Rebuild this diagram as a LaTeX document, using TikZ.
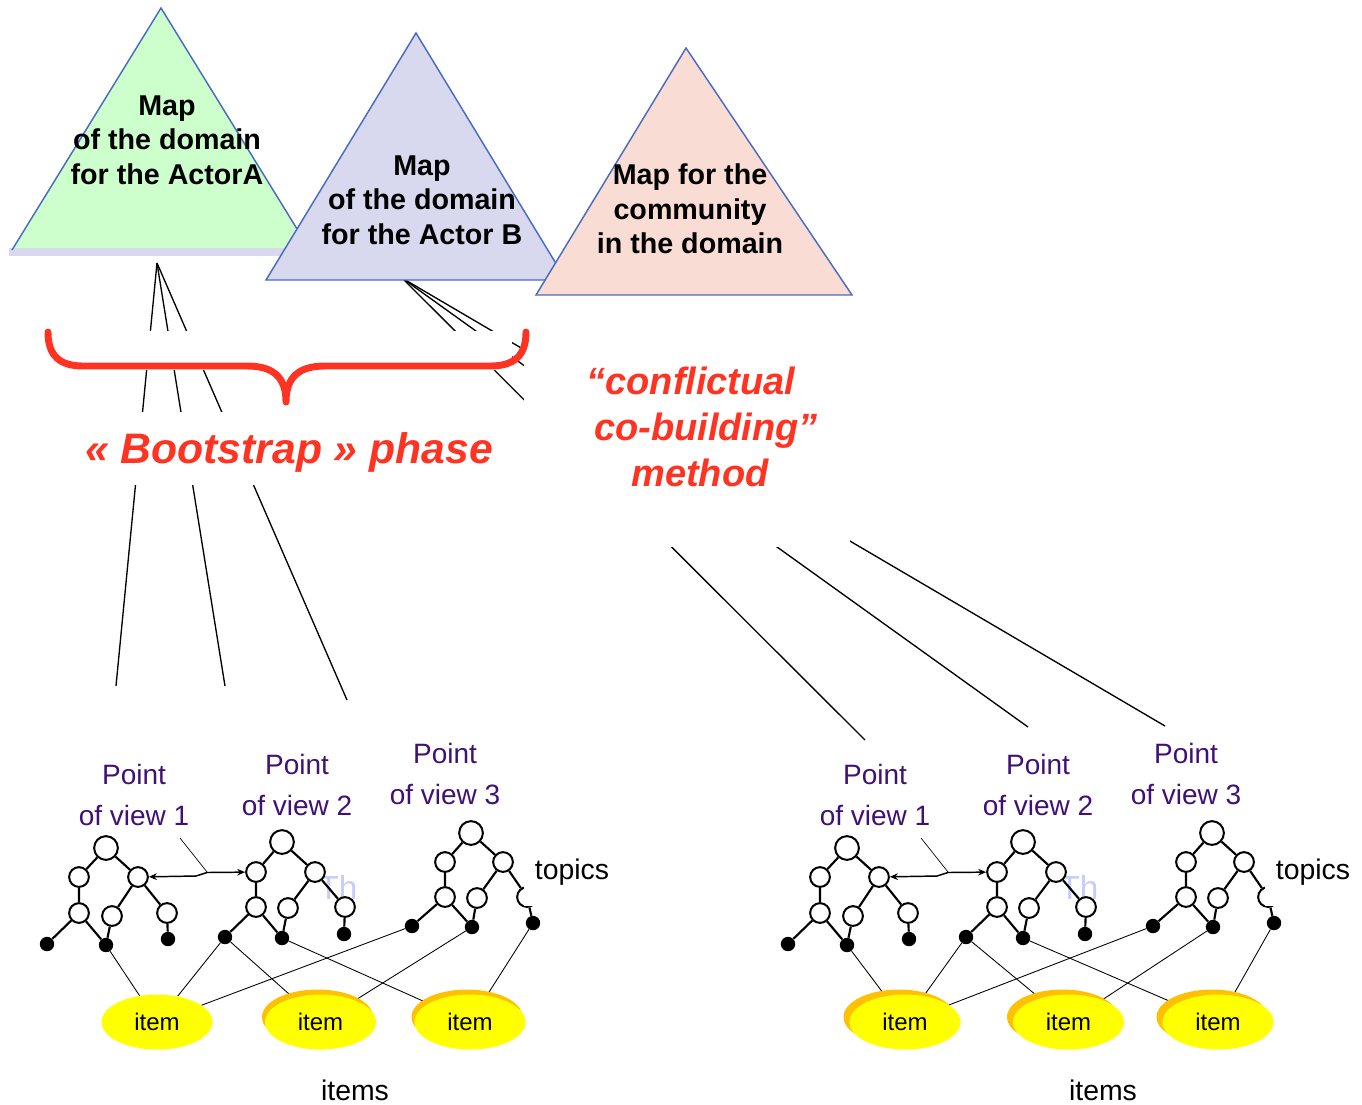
\documentclass[tikz,border=0pt]{standalone}
\usepackage{fontspec}
\setmainfont{Liberation Sans}
\usetikzlibrary{arrows.meta,shadows,backgrounds,shapes.geometric}

\definecolor{mapA}{HTML}{CCFFCC}
\definecolor{mapB}{HTML}{D8D8EE}
\definecolor{mapC}{HTML}{F9DCD3}
\definecolor{edgeblue}{HTML}{4A6CC0}
\definecolor{phasered}{HTML}{FF3322}
\definecolor{pvpurple}{HTML}{3F1175}
\definecolor{itemyellow}{HTML}{FFFF00}
\definecolor{itemshade}{HTML}{FFC000}
\definecolor{ghost}{HTML}{C8CCFA}

\tikzset{
  maptext/.style={font=\bfseries\fontsize{21.5}{25.8}\selectfont, align=center, text=black, inner sep=0pt},
  phase/.style={font=\bfseries\itshape\fontsize{32}{38}\selectfont, text=phasered, inner sep=0pt},
  method/.style={font=\bfseries\itshape\fontsize{28.5}{34.5}\selectfont, text=phasered, align=center, inner sep=0pt},
  pvlabel/.style={font=\fontsize{21}{30.75}\selectfont, text=pvpurple, align=center, inner sep=0pt},
  plain/.style={font=\fontsize{21.3}{25}\selectfont, inner sep=0pt},
  topic/.style={circle, draw, line width=1.5pt, fill=white, minimum size=14.8pt, inner sep=0pt},
  roottopic/.style={topic, minimum size=17.8pt},
  leaf/.style={circle, fill=black, minimum size=10.8pt, inner sep=0pt},
  treeedge/.style={line width=1.6pt},
  link/.style={line width=0.65pt},
  fan/.style={line width=1pt},
  item/.style={ellipse, fill=itemyellow, minimum width=83.25pt, minimum height=41.25pt, inner sep=0pt, font=\fontsize{18}{20}\selectfont},
  shaded item/.style={item, general shadow={fill=itemshade, shadow xshift=#1, shadow yshift=3.75pt}},
  >={Stealth[length=6pt,width=5pt]},
}

% One block of three points of view (topic trees) indexing three items.
% #1 name prefix, #2 horizontal shift of the block, #3 extra shift of the items,
% #4 style of the first item, #5 style of the other two items
\newcommand{\viewgroup}[5]{%
\begin{scope}[shift={(#2,0)}]
  % labels
  \node[pvlabel] (#1-pv1) at (134,795) {Point\\of view 1};
  \node[pvlabel] (#1-pv2) at (297,785) {Point\\of view 2};
  \node[pvlabel] (#1-pv3) at (445,774) {Point\\of view 3};
  \node[plain, text=ghost, font=\fontsize{25}{27}\selectfont] (#1-ghost) at (338,887) {Th};
  % tree 1
  \node[roottopic] (#1-t1-a) at (106,848) {};
  \node[topic] (#1-t1-b) at (79,877) {};
  \node[topic] (#1-t1-c) at (138,877) {};
  \node[topic] (#1-t1-d) at (79,913) {};
  \node[topic] (#1-t1-e) at (112,916) {};
  \node[topic] (#1-t1-f) at (167,913) {};
  \node[leaf] (#1-t1-g) at (47,944) {};
  \node[leaf] (#1-t1-h) at (106,945) {};
  \node[leaf] (#1-t1-i) at (168,939) {};
  % tree 2
  \node[roottopic] (#1-t2-a) at (282,842) {};
  \node[topic] (#1-t2-b) at (256,872) {};
  \node[topic] (#1-t2-c) at (315,872) {};
  \node[topic] (#1-t2-d) at (256,907) {};
  \node[topic] (#1-t2-e) at (288,908) {};
  \node[topic] (#1-t2-f) at (345,907) {};
  \node[leaf] (#1-t2-g) at (225,937) {};
  \node[leaf] (#1-t2-h) at (282,938) {};
  \node[leaf] (#1-t2-i) at (344,934) {};
  % tree 3
  \node[roottopic] (#1-t3-a) at (471,833) {};
  \node[topic] (#1-t3-b) at (445,862) {};
  \node[topic] (#1-t3-c) at (503,862) {};
  \node[topic] (#1-t3-d) at (445,897) {};
  \node[topic] (#1-t3-e) at (477,898) {};
  \node[topic] (#1-t3-f) at (527,897) {};
  \node[leaf] (#1-t3-g) at (412,926) {};
  \node[leaf] (#1-t3-h) at (472,927) {};
  \node[leaf] (#1-t3-i) at (533,923) {};
  \foreach \t in {t1,t2,t3}{
    \draw[treeedge] (#1-\t-a) -- (#1-\t-b) (#1-\t-a) -- (#1-\t-c)
      (#1-\t-b) -- (#1-\t-d) (#1-\t-c) -- (#1-\t-e) (#1-\t-c) -- (#1-\t-f)
      (#1-\t-d) -- (#1-\t-g) (#1-\t-d) -- (#1-\t-h) (#1-\t-e) -- (#1-\t-h)
      (#1-\t-f) -- (#1-\t-i);
  }
  % link between two points of view
  \draw[line width=1.1pt, <->] (#1-t1-c) -- (196,876) -- (207,872.5) -- (#1-t2-b);
  \coordinate (#1-cl1) at (180,838);
  \coordinate (#1-cl2) at (207,872);
  \draw[line width=0.5pt] (#1-cl1) -- (#1-cl2);
  % topics label
  \fill[white] (524,850) rectangle (616,906);
  \node[plain] (#1-topics) at (572,872) {topics};
  % items
  \node[#4] (#1-it1) at ({157+#3},1022) {item};
  \node[#5] (#1-it2) at ({320.5+#3},1022) {item};
  \node[#5] (#1-it3) at ({470+#3},1022) {item};
  \node[plain] (#1-items) at ({355+#3},1090) {items};
  \begin{scope}[on background layer]
    \draw[link] (#1-t1-h) -- (#1-it1);
    \draw[link] (#1-t2-g) -- (#1-it1);
    \draw[link] (#1-t3-g) -- (#1-it1);
    \draw[link] (#1-t2-g) -- (#1-it2);
    \draw[link] (#1-t3-h) -- (#1-it2);
    \draw[link] (#1-t2-h) -- (#1-it3);
    \draw[link] (#1-t3-i) -- (#1-it3);
  \end{scope}
\end{scope}}

\begin{document}
\begin{tikzpicture}[x=0.75pt,y=-0.75pt]
\useasboundingbox (0,0) rectangle (1362,1104);

% the three maps
\fill[mapA] (161,8) -- (12,250) -- (310,250) -- cycle;
\fill[mapB] (9,248) rectangle (300,256);
\draw[edgeblue, line width=1.1pt] (12,250) -- (161,8) -- (310,250);
\filldraw[fill=mapB, draw=edgeblue, line width=1.1pt] (416,33) -- (266,280) -- (566,280) -- cycle;
\filldraw[fill=mapC, draw=edgeblue, line width=1.1pt] (686,48) -- (536,295) -- (852,295) -- cycle;
\node[maptext] (mapAtext) at (167,140) {Map\\of the domain\\for the ActorA};
\node[maptext] (mapBtext) at (422,200) {Map\\of the domain\\for the Actor B};
\node[maptext] (mapCtext) at (690,209) {Map for the\\community\\in the domain};

% fans from the maps down to the points of view
\coordinate (fanA) at (157,263);
\coordinate (a1) at (116,686);
\coordinate (a2) at (225,686);
\coordinate (a3) at (347,700);
\coordinate (fanB) at (402,278);
\coordinate (b1) at (865,740);
\coordinate (b2) at (1028,727);
\coordinate (b3) at (1165,726);
\begin{scope}[on background layer]
  \foreach \e in {a1,a2,a3} \draw[fan] (fanA) -- (\e);
  \foreach \e in {b1,b2,b3} \draw[fan] (fanB) -- (\e);
\end{scope}

% white grounds behind the brace and the captions
\fill[white] (40,331) rectangle (512,370);
\fill[white] (80,412) rectangle (500,485);
\fill[white] (524,340) rectangle (850,547);

% brace
\draw[phasered, line width=5.2pt, line cap=round, line join=round]
  (48,332) .. controls (48,356) and (60,366) .. (83,366) -- (247,366)
  .. controls (272,366) and (286,376) .. (286,402)
  .. controls (286,376) and (300,366) .. (325,366) -- (490,366)
  .. controls (514,366) and (526,356) .. (526,332);

\node[phase] (phase) at (289,452) {« Bootstrap » phase};
\node[method] (method) at (700,427) {“conflictual\hspace*{13.5pt}\\\hspace*{9pt}co-building”\\method};

% the two blocks of points of view
\viewgroup{L}{0}{0}{item}{shaded item=-2.25pt}
\viewgroup{R}{741}{7}{shaded item=-4.5pt}{shaded item=-4.5pt}
\end{tikzpicture}
\end{document}
